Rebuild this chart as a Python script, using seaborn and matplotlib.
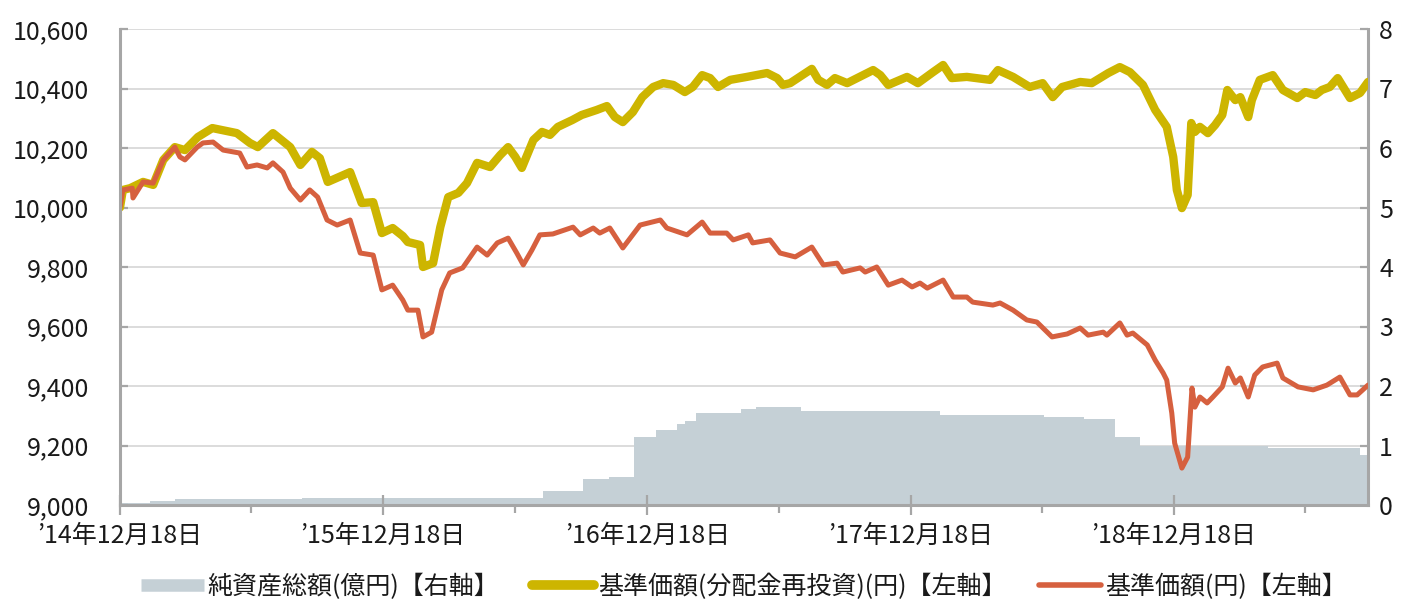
import matplotlib
matplotlib.use("Agg")
import matplotlib.pyplot as plt
from matplotlib.lines import Line2D
from matplotlib.ticker import FuncFormatter, FixedLocator
import matplotlib.dates as mdates
import seaborn as sns
import pandas as pd

# ---------------- data ----------------
reinv_dates = [
    "2014-12-18", "2014-12-22", "2015-01-01", "2015-01-19", "2015-02-02", "2015-02-16",
    "2015-03-04", "2015-03-18", "2015-04-05", "2015-04-25", "2015-05-29", "2015-06-16",
    "2015-06-27", "2015-07-18", "2015-08-11", "2015-08-25", "2015-09-10", "2015-09-21",
    "2015-10-02", "2015-11-02", "2015-11-18", "2015-12-04", "2015-12-16", "2015-12-31",
    "2016-01-14", "2016-01-21", "2016-02-07", "2016-02-11", "2016-02-25", "2016-03-06",
    "2016-03-17", "2016-03-31", "2016-04-12", "2016-04-26", "2016-05-14", "2016-05-28",
    "2016-06-08", "2016-06-18", "2016-06-27", "2016-07-13", "2016-07-25", "2016-08-05",
    "2016-08-16", "2016-09-05", "2016-09-18", "2016-10-09", "2016-10-23", "2016-11-03",
    "2016-11-14", "2016-11-28", "2016-12-11", "2016-12-26", "2017-01-09", "2017-01-23",
    "2017-02-08", "2017-02-19", "2017-03-04", "2017-03-15", "2017-03-26", "2017-04-12",
    "2017-05-05", "2017-06-02", "2017-06-16", "2017-06-24", "2017-07-04", "2017-08-03",
    "2017-08-12", "2017-08-24", "2017-09-04", "2017-09-21", "2017-10-27", "2017-11-06",
    "2017-11-17", "2017-12-13", "2017-12-28", "2018-01-18", "2018-02-01", "2018-02-13",
    "2018-03-06", "2018-04-07", "2018-04-18", "2018-05-09", "2018-06-01", "2018-06-19",
    "2018-07-03", "2018-07-16", "2018-08-10", "2018-08-26", "2018-09-18", "2018-10-04",
    "2018-10-18", "2018-11-05", "2018-11-22", "2018-12-08", "2018-12-17", "2018-12-22",
    "2018-12-29", "2019-01-06", "2019-01-11", "2019-01-16", "2019-01-23", "2019-02-03",
    "2019-02-13", "2019-02-23", "2019-03-02", "2019-03-13", "2019-03-20", "2019-03-31",
    "2019-04-05", "2019-04-16", "2019-05-04", "2019-05-18", "2019-06-07", "2019-06-18",
    "2019-07-02", "2019-07-11", "2019-07-22", "2019-08-02", "2019-08-19", "2019-09-02",
    "2019-09-13",
]
reinv_values = [
    10000, 10059, 10065, 10086, 10076, 10160,
    10203, 10193, 10237, 10267, 10250, 10217,
    10203, 10250, 10203, 10143, 10187, 10166,
    10086, 10119, 10015, 10018, 9914, 9931,
    9904, 9884, 9874, 9800, 9813, 9934,
    10035, 10049, 10082, 10150, 10136, 10176,
    10203, 10170, 10133, 10227, 10254, 10244,
    10271, 10294, 10311, 10328, 10341, 10304,
    10287, 10321, 10371, 10405, 10418, 10412,
    10388, 10405, 10445, 10435, 10405, 10429,
    10439, 10452, 10435, 10412, 10418, 10466,
    10429, 10412, 10435, 10418, 10462, 10445,
    10412, 10439, 10418, 10455, 10479, 10435,
    10439, 10429, 10462, 10439, 10405, 10418,
    10371, 10405, 10422, 10418, 10452, 10472,
    10455, 10412, 10328, 10271, 10170, 10059,
    9998, 10042, 10284, 10254, 10271, 10250,
    10277, 10311, 10395, 10361, 10371, 10304,
    10361, 10429, 10445, 10395, 10368, 10388,
    10378, 10395, 10405, 10435, 10368, 10385,
    10422,
]

nav_dates = [
    "2014-12-18", "2014-12-22", "2015-01-04", "2015-01-05", "2015-01-19", "2015-02-02",
    "2015-02-16", "2015-03-04", "2015-03-11", "2015-03-18", "2015-04-04", "2015-04-12",
    "2015-04-26", "2015-05-10", "2015-06-02", "2015-06-12", "2015-06-26", "2015-07-10",
    "2015-07-18", "2015-08-01", "2015-08-11", "2015-08-25", "2015-09-07", "2015-09-18",
    "2015-10-01", "2015-10-15", "2015-11-02", "2015-11-16", "2015-12-04", "2015-12-16",
    "2015-12-31", "2016-01-14", "2016-01-21", "2016-02-04", "2016-02-11", "2016-02-23",
    "2016-03-08", "2016-03-19", "2016-04-06", "2016-04-26", "2016-05-10", "2016-05-24",
    "2016-06-08", "2016-06-20", "2016-06-29", "2016-07-11", "2016-07-22", "2016-08-09",
    "2016-09-06", "2016-09-16", "2016-10-04", "2016-10-13", "2016-10-27", "2016-11-14",
    "2016-12-08", "2017-01-05", "2017-01-14", "2017-02-11", "2017-03-04", "2017-03-15",
    "2017-04-07", "2017-04-16", "2017-05-07", "2017-05-13", "2017-06-06", "2017-06-20",
    "2017-07-11", "2017-08-03", "2017-08-19", "2017-09-07", "2017-09-15", "2017-10-09",
    "2017-10-16", "2017-11-01", "2017-11-17", "2017-12-06", "2017-12-20", "2017-12-31",
    "2018-01-10", "2018-02-01", "2018-02-15", "2018-03-06", "2018-03-14", "2018-04-11",
    "2018-04-21", "2018-05-09", "2018-05-28", "2018-06-11", "2018-07-02", "2018-07-23",
    "2018-08-10", "2018-08-21", "2018-09-11", "2018-09-16", "2018-10-04", "2018-10-14",
    "2018-10-22", "2018-11-11", "2018-11-22", "2018-12-03", "2018-12-08", "2018-12-15",
    "2018-12-19", "2018-12-29", "2019-01-06", "2019-01-12", "2019-01-16", "2019-01-23",
    "2019-02-02", "2019-02-10", "2019-02-23", "2019-03-03", "2019-03-13", "2019-03-20",
    "2019-03-31", "2019-04-09", "2019-04-20", "2019-05-10", "2019-05-18", "2019-06-08",
    "2019-06-29", "2019-07-18", "2019-08-05", "2019-08-19", "2019-08-29", "2019-09-13",
]
nav_values = [
    10000, 10059, 10065, 10032, 10086, 10082,
    10160, 10203, 10170, 10160, 10203, 10217,
    10220, 10193, 10183, 10136, 10143, 10133,
    10150, 10119, 10065, 10025, 10059, 10035,
    9958, 9941, 9958, 9847, 9840, 9723,
    9739, 9689, 9655, 9655, 9565, 9581,
    9723, 9780, 9797, 9867, 9840, 9881,
    9897, 9847, 9807, 9857, 9908, 9911,
    9934, 9908, 9931, 9914, 9931, 9864,
    9941, 9958, 9931, 9908, 9951, 9914,
    9914, 9891, 9908, 9881, 9891, 9847,
    9834, 9867, 9807, 9813, 9783, 9797,
    9783, 9800, 9739, 9756, 9733, 9746,
    9729, 9756, 9699, 9699, 9682, 9672,
    9679, 9655, 9622, 9615, 9565, 9575,
    9595, 9571, 9581, 9571, 9612, 9571,
    9578, 9538, 9487, 9444, 9420, 9309,
    9208, 9124, 9161, 9393, 9329, 9363,
    9343, 9363, 9397, 9460, 9410, 9427,
    9363, 9437, 9464, 9477, 9427, 9397,
    9387, 9403, 9430, 9370, 9370, 9403,
]

asset_dates = [
    "2014-12-18", "2015-01-29", "2015-03-04", "2015-08-27", "2016-06-27", "2016-07-26",
    "2016-09-20", "2016-10-26", "2016-11-29", "2016-12-30", "2017-01-28", "2017-02-08",
    "2017-02-23", "2017-04-27", "2017-05-18", "2017-07-19", "2018-01-28", "2018-06-21",
    "2018-08-16", "2018-09-27", "2018-11-01", "2019-04-28", "2019-09-02", "2019-09-13",
]
asset_values = [
    0.04, 0.07, 0.10, 0.12, 0.11, 0.24,
    0.43, 0.47, 1.15, 1.26, 1.36, 1.42,
    1.55, 1.62, 1.64, 1.585, 1.52, 1.48,
    1.445, 1.14, 1.00, 0.95, 0.84, 0.84,
]

major_tick_dates = ["2014-12-18", "2015-12-18", "2016-12-18", "2017-12-18", "2018-12-18"]
major_tick_labels = ["’14年12月18日", "’15年12月18日", "’16年12月18日", "’17年12月18日", "’18年12月18日"]
minor_tick_dates = ["2015-06-18", "2016-06-18", "2017-06-18", "2018-06-18", "2019-06-18"]
x_start, x_end = "2014-12-18", "2019-09-13"
left_ticks = [9000, 9200, 9400, 9600, 9800, 10000, 10200, 10400, 10600]
right_ticks = [0, 1, 2, 3, 4, 5, 6, 7, 8]

label_assets = "純資産総額(億円)【右軸】"
label_reinv = "基準価額(分配金再投資)(円)【左軸】"
label_nav = "基準価額(円)【左軸】"

# ---------------- styling ----------------
C_AREA = "#c5d0d6"
C_REINV = "#cdb500"
C_NAV = "#d6603f"
C_AXIS = "#a6a6a6"
C_GRID = "#d9d9d9"
C_TEXT = "#1a1a1a"

sns.set_theme(style="white")
plt.rcParams["font.family"] = ["Noto Sans CJK JP", "DejaVu Sans"]

W, H = 1405, 601
fig = plt.figure(figsize=(W / 100, H / 100), dpi=100)
ax = fig.add_axes([120 / W, 1 - 505 / H, 1248 / W, 476 / H])
ax2 = ax.twinx()
ax.set_zorder(ax2.get_zorder() + 1)
ax.patch.set_visible(False)

# net assets area (right axis)
ad = pd.to_datetime(asset_dates)
ax2.fill_between(ad, asset_values, 0, step="post", color=C_AREA, lw=0, zorder=1)

# lines (left axis)
reinv_df = pd.DataFrame({"date": pd.to_datetime(reinv_dates), "value": reinv_values})
nav_df = pd.DataFrame({"date": pd.to_datetime(nav_dates), "value": nav_values})
sns.lineplot(data=reinv_df, x="date", y="value", ax=ax, color=C_REINV, lw=6.0,
             solid_joinstyle="round", solid_capstyle="round", legend=False)
sns.lineplot(data=nav_df, x="date", y="value", ax=ax, color=C_NAV, lw=3.6,
             solid_joinstyle="round", solid_capstyle="round", legend=False)

ax.set_xlim(pd.Timestamp(x_start), pd.Timestamp(x_end))
ax.set_ylim(left_ticks[0], left_ticks[-1])
ax2.set_ylim(right_ticks[0], right_ticks[-1])
ax.set_xlabel("")
ax.set_ylabel("")
ax2.set_ylabel("")

# grid on the back axis so the area covers it
ax2.set_axisbelow(True)
ax2.yaxis.grid(True, color=C_GRID, lw=1.3)
ax2.xaxis.grid(False)
ax.grid(False)

ax.yaxis.set_major_locator(FixedLocator(left_ticks))
ax.yaxis.set_major_formatter(FuncFormatter(lambda v, p: f"{int(v):,}"))
ax2.yaxis.set_major_locator(FixedLocator(right_ticks))
ax2.yaxis.set_major_formatter(FuncFormatter(lambda v, p: f"{int(v)}"))

ax.xaxis.set_major_locator(FixedLocator(mdates.date2num(pd.to_datetime(major_tick_dates))))
ax.set_xticklabels(major_tick_labels)
ax.xaxis.set_minor_locator(FixedLocator(mdates.date2num(pd.to_datetime(minor_tick_dates))))

for s in ["top", "right"]:
    ax.spines[s].set_visible(False)
for s in ["top", "left", "bottom"]:
    ax2.spines[s].set_visible(False)
for a, s in [(ax, "left"), (ax, "bottom"), (ax2, "right")]:
    a.spines[s].set_color(C_AXIS)
    a.spines[s].set_linewidth(2.2)

ax.tick_params(axis="x", which="major", bottom=True, direction="inout", length=14,
               width=1.6, color=C_AXIS, pad=6, labelsize=18, labelcolor=C_TEXT)
ax.tick_params(axis="x", which="minor", bottom=True, direction="out", length=6,
               width=1.6, color=C_AXIS)
ax.tick_params(axis="y", left=True, direction="in", length=6, width=1.6, color=C_AXIS,
               pad=22, labelsize=18, labelcolor=C_TEXT)
ax2.tick_params(axis="y", right=True, direction="in", length=6, width=1.6, color=C_AXIS,
                pad=8, labelsize=18, labelcolor=C_TEXT)

handles = [
    Line2D([], [], color=C_AREA, lw=9, solid_capstyle="butt"),
    Line2D([], [], color=C_REINV, lw=7, solid_capstyle="round"),
    Line2D([], [], color=C_NAV, lw=4, solid_capstyle="round"),
]
fig.legend(handles, [label_assets, label_reinv, label_nav], loc="center",
           bbox_to_anchor=(744 / W, 1 - 587 / H), ncol=3, frameon=False, fontsize=18,
           handlelength=2.5, handletextpad=0.15, columnspacing=1.3, labelcolor=C_TEXT)

fig.savefig("out.png", dpi=100)
